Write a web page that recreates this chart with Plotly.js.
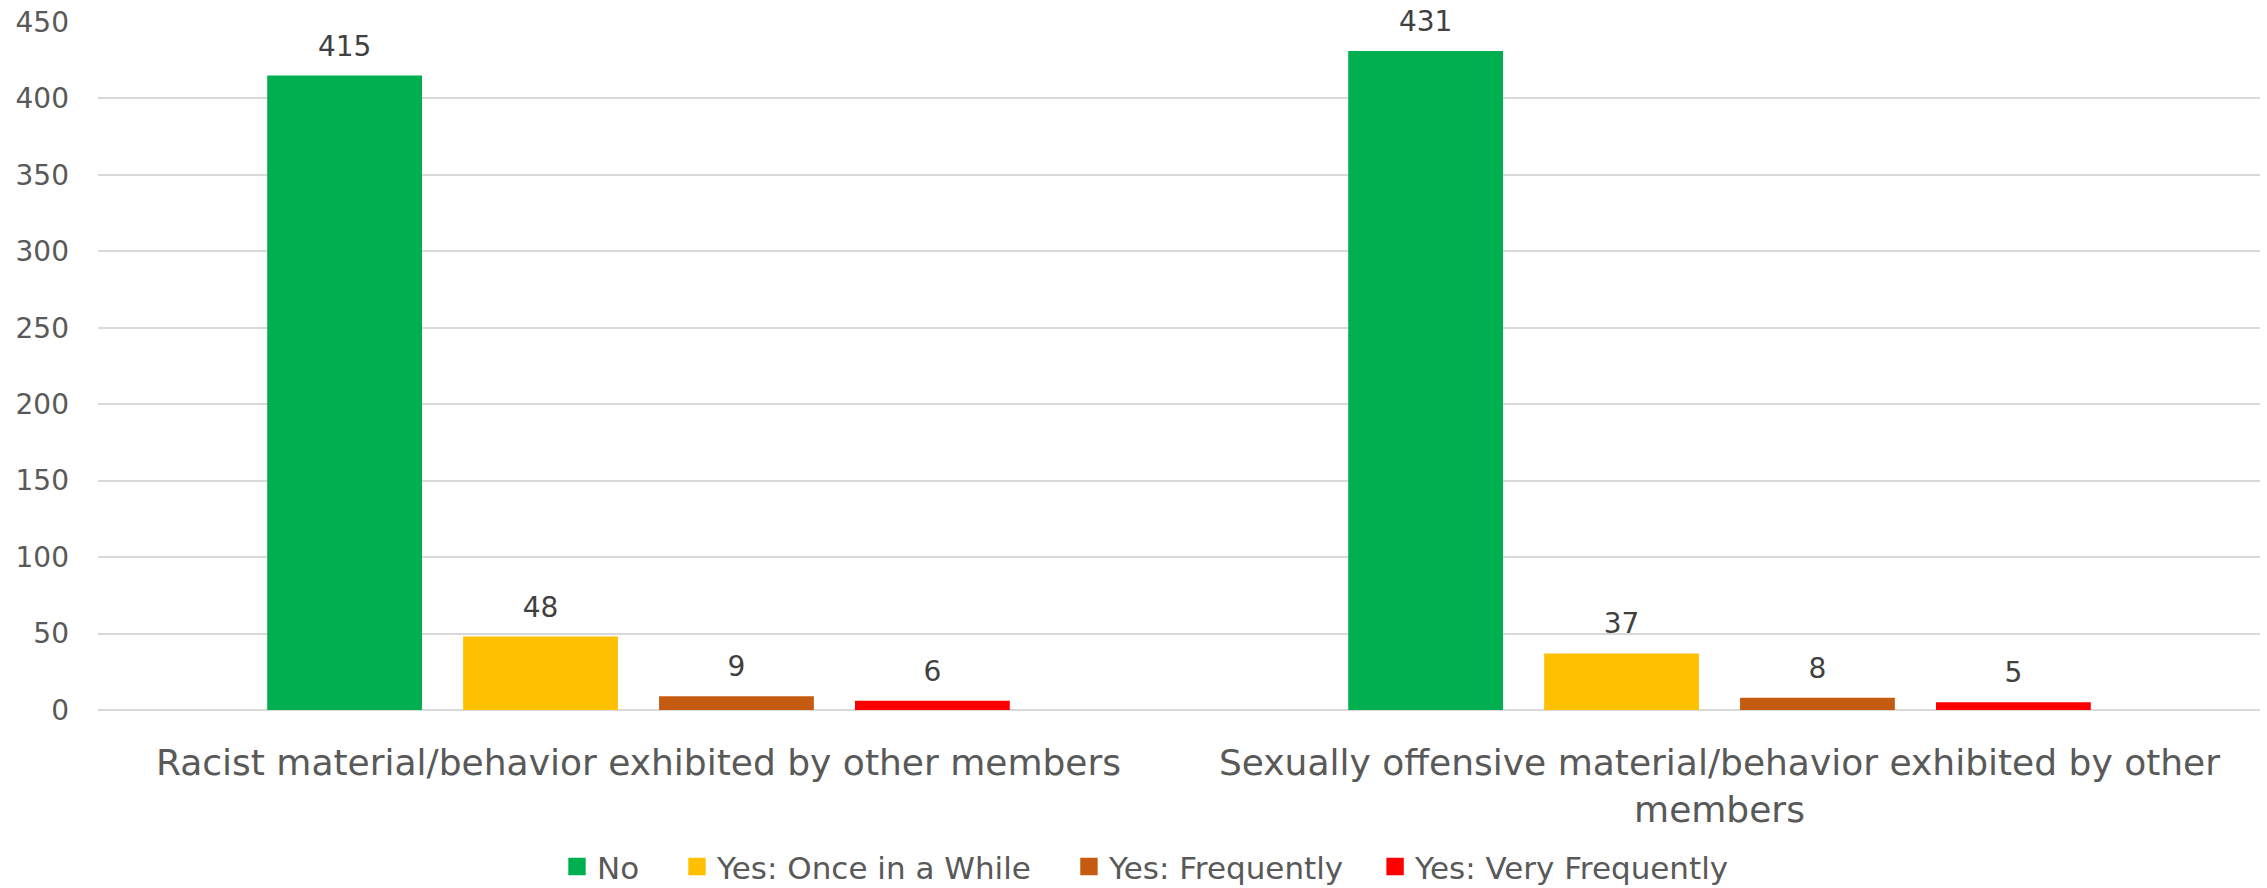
<!DOCTYPE html>
<html>
<head>
<meta charset="utf-8">
<script src="https://cdn.plot.ly/plotly-3.0.1.min.js"></script>
<style>html,body{margin:0;padding:0;background:#fff;}#chart{width:2267px;height:888px;}</style>
</head>
<body>
<div id="chart"></div>
<script>
const categories = [
  "Racist material/behavior exhibited by other members",
  "Sexually offensive material/behavior exhibited by other<br>members"
];
const seriesNames = ["No", "Yes: Once in a While", "Yes: Frequently", "Yes: Very Frequently"];
const seriesColors = ["#00B050", "#FFC000", "#C55A11", "#FF0000"];
const valuesNo = [415, 431];
const valuesOnce = [48, 37];
const valuesFrequently = [9, 8];
const valuesVeryFrequently = [6, 5];
const allValues = [valuesNo, valuesOnce, valuesFrequently, valuesVeryFrequently];
const yTicks = [0, 50, 100, 150, 200, 250, 300, 350, 400, 450];

const FONT = "DejaVu Sans, sans-serif";
const legendIds = ["legend", "legend2", "legend3", "legend4"];
const legendX = [0.2123, 0.2678, 0.4491, 0.5907];

const traces = seriesNames.map((name, i) => ({
  type: "bar",
  name: name,
  legend: legendIds[i],
  x: categories,
  y: allValues[i],
  marker: {color: seriesColors[i]},
  text: allValues[i].map(String),
  textposition: "outside",
  textfont: {family: FONT, size: 28, color: "#404040"},
  cliponaxis: false,
  hoverinfo: "x+y+name"
}));

const layout = {
  width: 2267, height: 888,
  margin: {l: 98, r: 7, t: 22, b: 178, autoexpand: false},
  paper_bgcolor: "#fff", plot_bgcolor: "#fff",
  barmode: "group",
  bargap: 0.275,
  bargroupgap: 0.21,
  font: {family: FONT, color: "#595959"},
  xaxis: {
    tickfont: {family: FONT, size: 36, color: "#595959"},
    showgrid: false, zeroline: false, showline: false, ticks: "",
    ticklabelstandoff: 28, automargin: false
  },
  yaxis: {
    range: [0, 450],
    tickvals: yTicks,
    ticktext: yTicks.map(String),
    tickfont: {family: FONT, size: 28, color: "#595959"},
    showgrid: true, gridcolor: "#d9d9d9", gridwidth: 2,
    zeroline: true, zerolinecolor: "#d9d9d9", zerolinewidth: 2,
    ticks: "", ticklabelstandoff: 28, automargin: false
  },
  showlegend: true
};
legendIds.forEach((id, i) => {
  layout[id] = {
    orientation: "h", x: legendX[i], xanchor: "left", y: -0.228, yanchor: "middle",
    font: {family: FONT, size: 31, color: "#595959"},
    itemwidth: 30, bgcolor: "rgba(0,0,0,0)"
  };
});

Plotly.newPlot("chart", traces, layout, {displayModeBar: false, staticPlot: true}).then(gd => {
  // lift the outside bar labels a little further above the bars
  gd.querySelectorAll("g.point text.bartext").forEach(t => {
    const tr = t.getAttribute("transform") || "";
    t.setAttribute("transform", "translate(0,-10) " + tr);
  });
  // enlarge the legend swatches to match the reference
  gd.querySelectorAll("g.legendpoints path.legendundefined, g.legendpoints path").forEach(p => {
    const tr = p.getAttribute("transform") || "";
    p.setAttribute("transform", tr + " scale(1.45)");
  });
});
</script>
</body>
</html>
